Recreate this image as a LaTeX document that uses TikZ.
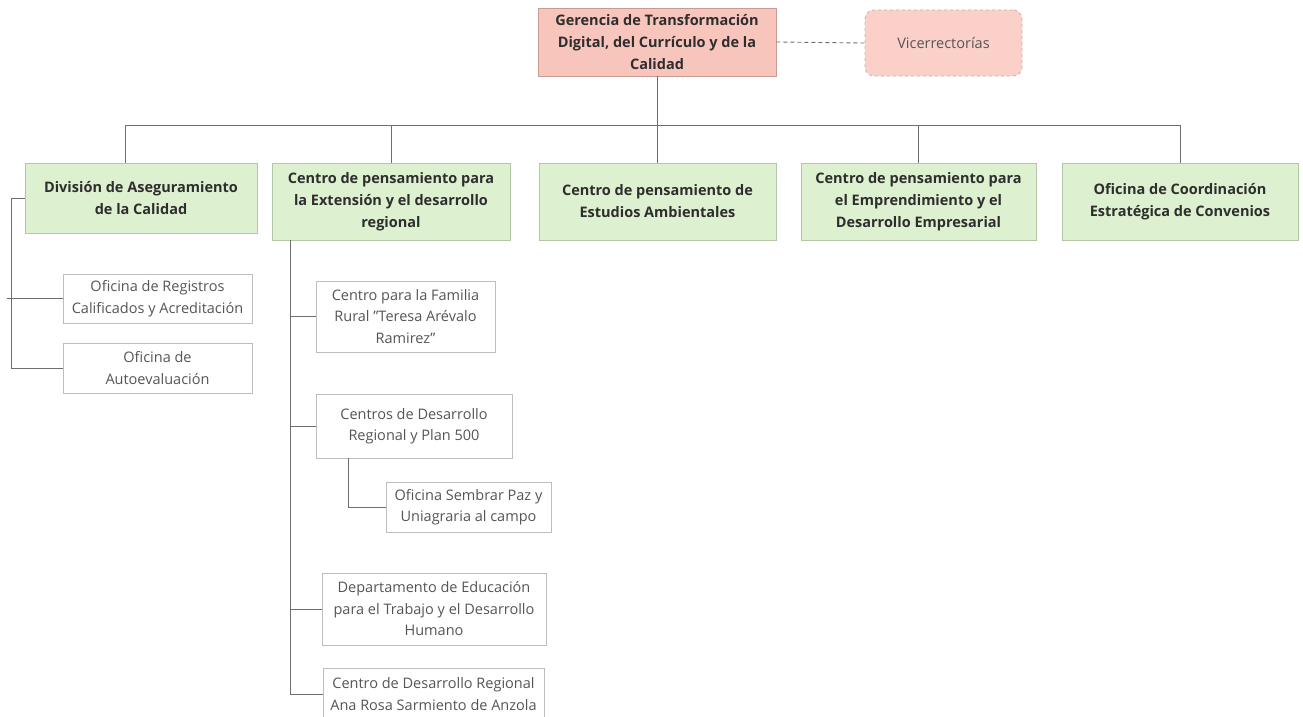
\documentclass[tikz,border=0pt]{standalone}
\usepackage{fontspec}
\setmainfont{Open Sans}
\definecolor{salmon}{HTML}{F8C5BC}
\definecolor{salmonl}{HTML}{FAD0C9}
\definecolor{salmonb}{HTML}{C99A93}
\definecolor{leaf}{HTML}{DDF0CF}
\definecolor{leafb}{HTML}{B3C6A5}
\definecolor{wireg}{HTML}{6E6E6E}
\definecolor{subb}{HTML}{BDBDBD}
\definecolor{txtd}{HTML}{2E2E2E}
\definecolor{txtl}{HTML}{555555}
\begin{document}
\begin{tikzpicture}[x=1pt,y=-1pt,
  unit/.style={draw,line width=0.8pt,align=center,inner sep=0pt,
    font=\fontsize{14.5}{22}\selectfont\bfseries,text=txtd},
  head/.style={unit,fill=salmon,draw=salmonb},
  leafbox/.style={unit,fill=leaf,draw=leafb,minimum height=77pt},
  subbox/.style={draw=subb,line width=0.8pt,align=center,inner sep=0pt,fill=white,
    font=\fontsize{14.5}{21.5}\selectfont,text=txtl},
  wire/.style={draw=wireg,line width=0.9pt}]
\clip (0,0) rectangle (1303,717);
\fill[white] (0,0) rectangle (1303,717);
% top level
\node[head,minimum width=238pt,minimum height=68pt] (ger) at (657,42) {Gerencia de Transformación\\Digital, del Currículo y de la\\Calidad};
\node[subbox,fill=salmonl,draw=salmonb!80,dashed,rounded corners=9pt,minimum width=157pt,minimum height=66pt] (vice) at (943.5,43) {Vicerrectorías};
% second level
\node[leafbox,minimum width=232pt,minimum height=70pt] (div) at (141,198) {División de Aseguramiento\\de la Calidad};
\node[leafbox,minimum width=238pt] (ext) at (391,201.5) {Centro de pensamiento para\\la Extensión y el desarrollo\\regional};
\node[leafbox,minimum width=237pt] (amb) at (657.5,201.5) {Centro de pensamiento de\\Estudios Ambientales};
\node[leafbox,minimum width=235pt] (emp) at (918.5,201.5) {Centro de pensamiento para\\el Emprendimiento y el\\Desarrollo Empresarial};
\node[leafbox,minimum width=236pt] (conv) at (1180,201.5) {Oficina de Coordinación\\Estratégica de Convenios};
% under division
\node[subbox,minimum width=189pt,minimum height=49pt] (reg) at (157.5,298.5) {Oficina de Registros\\Calificados y Acreditación};
\node[subbox,minimum width=189pt,minimum height=50pt] (auto) at (157.5,368) {Oficina de\\Autoevaluación};
% under extension
\node[subbox,minimum width=179pt,minimum height=71pt] (fam) at (405.5,316.5) {Centro para la Familia\\Rural \symbol{"22}Teresa Arévalo\\Ramirez\symbol{"22}};
\node[subbox,minimum width=196pt,minimum height=64pt] (cdr) at (414,426) {Centros de Desarrollo\\Regional y Plan 500};
\node[subbox,minimum width=165pt,minimum height=50pt] (paz) at (468.5,507) {Oficina Sembrar Paz y\\Uniagraria al campo};
\node[subbox,minimum width=224pt,minimum height=72pt] (edu) at (434,609) {Departamento de Educación\\para el Trabajo y el Desarrollo\\Humano};
\node[subbox,minimum width=221pt,minimum height=52pt] (ana) at (433.5,694) {Centro de Desarrollo Regional\\Ana Rosa Sarmiento de Anzola};
% connectors
\coordinate (busL) at (125,125);
\coordinate (busR) at (1180,125);
\draw[wire,dashed,dash pattern=on 4pt off 3pt] (ger.east) -- (vice.west);
\draw[wire] (ger.south) -- (ger.south |- busL);
\draw[wire] (busL) -- (busR);
\draw[wire] (busL) -- (busL |- div.north);
\foreach \c in {ext,amb,emp,conv}
  \draw[wire] (\c.north) -- (\c.north |- busL);
\draw[wire] (div.west) -- ++(-13,0) |- (auto.west);
\draw[wire] (reg.west) -- ++(-56,0);
\coordinate (extT) at (290,240);
\draw[wire] (extT) |- (ana.west);
\foreach \c in {fam,cdr,edu}
  \draw[wire] (\c.west) -- (\c.west -| extT);
\coordinate (cdrT) at (348,458);
\draw[wire] (cdrT) |- (paz.west);
\end{tikzpicture}
\end{document}
